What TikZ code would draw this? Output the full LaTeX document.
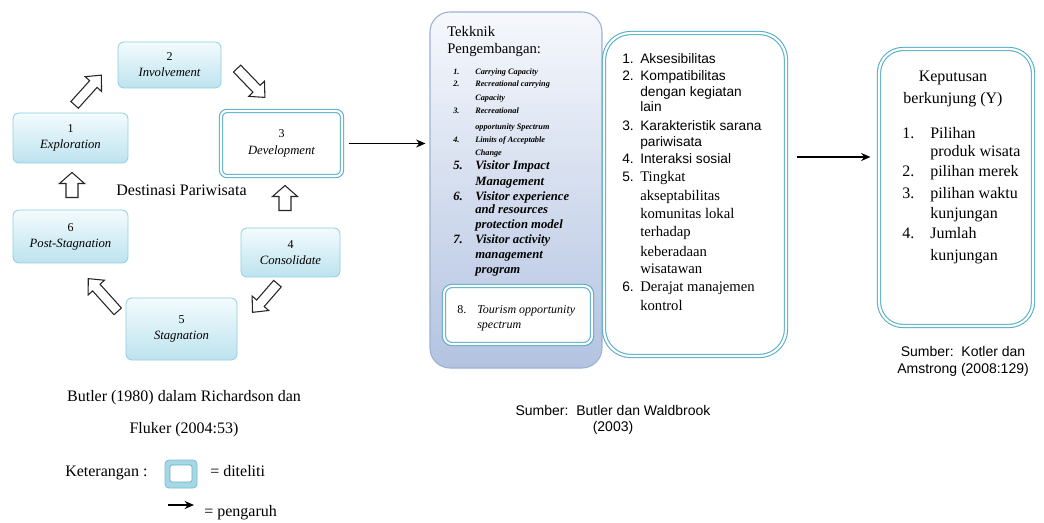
\documentclass[tikz,border=0pt]{standalone}
\usepackage{fontspec}
\setmainfont{Liberation Serif}
\setsansfont{Liberation Sans}
\usetikzlibrary{arrows.meta,calc}
\definecolor{cyb}{HTML}{8ECFE0}
\definecolor{cyt}{HTML}{F3FBFD}
\definecolor{cyd}{HTML}{BDE3EE}
\definecolor{tealc}{HTML}{56ADC6}
\definecolor{tkt}{HTML}{F6F8FC}
\definecolor{tkb}{HTML}{B3C3E1}
\definecolor{tkd}{HTML}{9DB1D5}
\definecolor{lgf}{HTML}{A6D7E5}
\newcommand\blkarrow[8]{% name,x,y,angle,length,shaft half,head half,head length
  \coordinate (#1) at (#2,#3);
  \begin{scope}[shift={(#2,#3)},rotate=#4]
    \draw[blk] (-#5/2,-#6) -- (#5/2-#8,-#6) -- (#5/2-#8,-#7) -- (#5/2,0)
      -- (#5/2-#8,#7) -- (#5/2-#8,#6) -- (-#5/2,#6) -- cycle;
  \end{scope}}
\newcommand\lbl[1]{{\itshape\fontsize{9.5}{12}\selectfont #1}}
\begin{document}
\begin{tikzpicture}[x=0.75pt,y=-0.75pt,
  cyc/.style={draw=cyb, line width=0.6pt, rounded corners=4.5pt, top color=cyt,
    bottom color=cyd, align=center, inner sep=0pt, font=\fontsize{9}{12}\selectfont},
  dbl/.style={draw=tealc, line width=0.8pt, double=white, double distance=1.6pt, fill=white},
  tkbox/.style={draw=tkd, line width=0.8pt, rounded corners=15pt, top color=tkt, bottom color=tkb},
  blk/.style={draw=black!85, fill=white, line width=0.8pt, line join=miter},
  conn/.style={-{Stealth[length=7pt,width=6pt]}, line width=1.1pt},
  txt/.style={inner sep=0pt, anchor=mid west},
  ctr/.style={inner sep=0pt, anchor=mid},
  sz/.style 2 args={minimum width=#1*0.75pt, minimum height=#2*0.75pt}]
\path[use as bounding box, fill=white] (0,0) rectangle (1044,523);

% ---- cycle ----
\node[cyc, sz={115}{50}] (ex) at (70.5,138) {1\\\lbl{Exploration}};
\node[cyc, sz={103}{46}] (inv) at (169.5,65) {2\\\lbl{Involvement}};
\node[dbl, rounded corners=4.5pt, sz={121}{65}, align=center, inner sep=0pt,
  font=\fontsize{9}{12.5}\selectfont] (dev) at (281.5,143.5) {3\\\lbl{Development}};
\node[cyc, sz={99}{49}] (con) at (290.5,252.5) {4\\\lbl{Consolidate}};
\node[cyc, sz={111}{62}] (stg) at (181.5,329) {5\\\lbl{Stagnation}};
\node[cyc, sz={115}{53}] (pst) at (70.5,236.5) {6\\\lbl{Post-Stagnation}};
\node[ctr, font=\fontsize{12}{14}\selectfont] (dp) at (181.5,192) {Destinasi Pariwisata};

\blkarrow{a12}{88}{90}{48}{40}{5}{11}{12}
\blkarrow{a23}{251}{83}{-46}{40}{5}{11}{12}
\blkarrow{a43}{285}{198}{90}{25}{6}{12.5}{11}
\blkarrow{a45}{265}{298}{-131}{38}{5}{11}{12}
\blkarrow{a56}{103}{295}{132}{44}{5}{11}{12}
\blkarrow{a61}{72}{185}{90}{25}{6}{12.5}{11}

\node[ctr, font=\fontsize{12}{14}\selectfont] (c1) at (184,398) {Butler (1980) dalam Richardson dan};
\node[ctr, font=\fontsize{12}{14}\selectfont] (c2) at (184,430) {Fluker (2004:53)};

% ---- legend ----
\node[txt, font=\fontsize{12}{14}\selectfont] (ket) at (65,473) {Keterangan :};
\node[draw=tealc!80, fill=lgf, rounded corners=3pt, line width=0.6pt, sz={32}{28}] (lg) at (181,474) {};
\node[draw=tealc, fill=white, rounded corners=1.5pt, line width=0.5pt, sz={22}{17}] (lgi) at (181,473.5) {};
\node[txt, font=\fontsize{12}{14}\selectfont] (dit) at (210,473) {= diteliti};
\coordinate (la1) at (168,505);
\coordinate (la2) at (194,505);
\draw[conn] (la1) -- (la2);
\node[txt, font=\fontsize{12}{14}\selectfont] (pgr) at (204,513) {= pengaruh};

% ---- teknik ----
\node[tkbox, sz={172}{356}] (tk) at (516,190) {};
\node[txt, font=\fontsize{11}{13}\selectfont] (tk0) at (447,33) {Tekknik};
\node[txt, font=\fontsize{11}{13}\selectfont] (tk00) at (447,50) {Pengembangan:};
\foreach \yy/\nn/\tx [count=\i] in {71/1./Carrying Capacity, 83/2./Recreational carrying,
  97//Capacity, 110/3./Recreational, 126//opportunity Spectrum, 139/4./Limits of Acceptable, 152//Change}{
  \node[txt, font=\fontsize{6.2}{7}\selectfont\bfseries\itshape] (tsn\i) at (453,\yy) {\nn};
  \node[txt, font=\fontsize{6.2}{7}\selectfont\bfseries\itshape] (tst\i) at (475,\yy) {\tx};
}
\foreach \yy/\nn/\tx [count=\i] in {166/5./Visitor Impact, 182//Management, 197/6./Visitor experience,
  210//and resources, 225//protection model, 240/7./Visitor activity, 255//management, 270//program}{
  \node[txt, font=\fontsize{9.5}{11}\selectfont\bfseries\itshape] (tln\i) at (453,\yy) {\nn};
  \node[txt, font=\fontsize{9.5}{11}\selectfont\bfseries\itshape] (tlt\i) at (475,\yy) {\tx};
}
\node[dbl, rounded corners=6pt, sz={148}{58}] (b8) at (518,315) {};
\node[txt, font=\fontsize{9}{11}\selectfont] (b8n) at (457,310) {8.};
\node[txt, font=\fontsize{9}{11}\selectfont\itshape] (b8a) at (477,310) {Tourism opportunity};
\node[txt, font=\fontsize{9}{11}\selectfont\itshape] (b8b) at (477,325) {spectrum};

\node[ctr, font=\sffamily\fontsize{10.5}{12}\selectfont] (s1) at (613,412) {Sumber:\ \ Butler dan Waldbrook};
\node[ctr, font=\sffamily\fontsize{10.5}{12}\selectfont] (s2) at (613,428) {(2003)};

% ---- middle ----
\node[dbl, rounded corners=20pt, sz={182}{323}] (mid) at (695,194.5) {};
\foreach \yy/\nn/\tx [count=\i] in {60/1./Aksesibilitas, 77/2./Kompatibilitas, 93//dengan kegiatan,
  108//lain, 127/3./Karakteristik sarana, 143//pariwisata, 160/4./Interaksi sosial}{
  \node[txt, font=\sffamily\fontsize{10.3}{12}\selectfont] (mn\i) at (622,\yy) {\nn};
  \node[txt, font=\sffamily\fontsize{10.3}{12}\selectfont] (mt\i) at (640,\yy) {\tx};
}
\foreach \yy/\nn/\tx [count=\i] in {178/5./Tingkat, 197//akseptabilitas, 215//komunitas lokal,
  233//terhadap, 253//keberadaan, 270//wisatawan, 288/6./Derajat manajemen, 307//kontrol}{
  \node[txt, font=\sffamily\fontsize{10.3}{12}\selectfont] (mn\i) at (622,\yy) {\nn};
  \node[txt, font=\fontsize{11}{12}\selectfont] (ms\i) at (640,\yy) {\tx};
}

% ---- right ----
\node[dbl, rounded corners=18pt, sz={154}{277}] (rb) at (956,187.5) {};
\node[ctr, font=\fontsize{12}{14}\selectfont] (r0) at (953,78) {Keputusan};
\node[ctr, font=\fontsize{12}{14}\selectfont] (r00) at (953,100) {berkunjung (Y)};
\foreach \yy/\nn/\tx [count=\i] in {135/1./Pilihan, 153//produk wisata, 173/2./pilihan merek,
  195/3./pilihan waktu, 215//kunjungan, 235/4./Jumlah, 257//kunjungan}{
  \node[txt, font=\fontsize{12}{14}\selectfont] (rn\i) at (902,\yy) {\nn};
  \node[txt, font=\fontsize{12}{14}\selectfont] (rt\i) at (930,\yy) {\tx};
}
\node[ctr, font=\sffamily\fontsize{10.5}{12}\selectfont] (k1) at (963,353) {Sumber:\ \ Kotler dan};
\node[ctr, font=\sffamily\fontsize{10.5}{12}\selectfont] (k2) at (963,370) {Amstrong (2008:129)};

% ---- connectors ----
\draw[conn] ([xshift=4.5pt]dev.east) -- ([xshift=-3pt]tk.west |- dev.east);
\coordinate (m2) at (797,157);
\draw[conn] (m2) -- ([xshift=-6pt]rb.west |- m2);
\end{tikzpicture}
\end{document}
